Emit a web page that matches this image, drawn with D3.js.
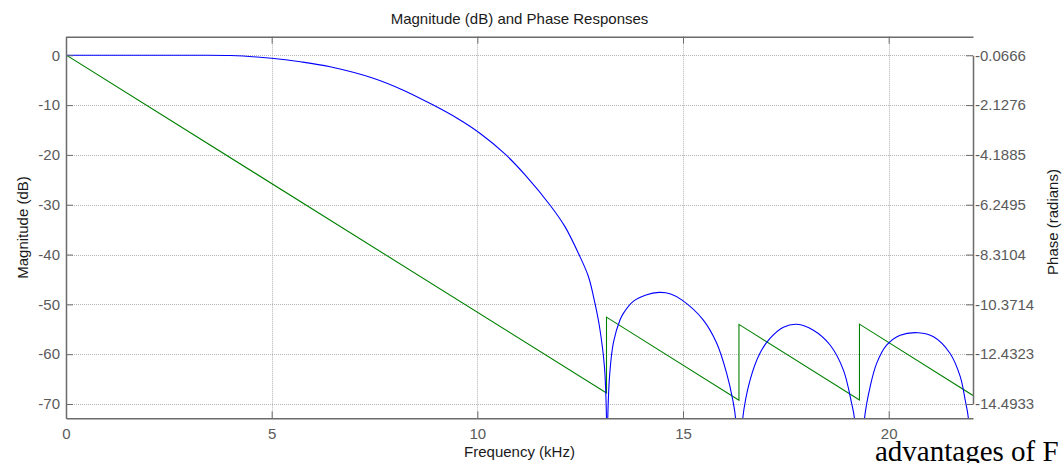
<!DOCTYPE html>
<html>
<head>
<meta charset="utf-8">
<script src="https://cdn.jsdelivr.net/npm/d3@7"></script>
<style>
  html, body { margin: 0; padding: 0; background: #fff; }
  svg { display: block; }
  text { font-family: "Liberation Sans", Arial, sans-serif; }
</style>
</head>
<body>
<svg id="chart" width="1062" height="463"></svg>
<script>
// ---- data ----
const chartTitle = "Magnitude (dB) and Phase Responses";
const xLabel = "Frequency (kHz)";
const yLabelLeft = "Magnitude (dB)";
const yLabelRight = "Phase (radians)";
const footText = "advantages of F";

const xTicks = [0, 5, 10, 15, 20];
const magTicks = [0, -10, -20, -30, -40, -50, -60, -70];
const phaseTicks = ["-0.0666", "-2.1276", "-4.1885", "-6.2495", "-8.3104", "-10.3714", "-12.4323", "-14.4933"];

// magnitude response (kHz, dB); zeros of the response go far below the axis
const magFreq = [0, 1, 2, 3, 4, 5, 5.7, 6.42, 7.47, 8.2, 8.93, 9.5, 10.07, 10.67, 11.16, 11.77, 12.13, 12.46, 12.70, 12.86, 12.97, 13.09, 13.14, 13.155,
  13.17, 13.22, 13.31, 13.47, 13.55, 13.79, 14.1, 14.42, 14.7, 14.97, 15.49, 15.82, 16.06, 16.21, 16.28, 16.36,
  16.45, 16.63, 16.87, 17.12, 17.44, 17.77, 18.17, 18.58, 18.90, 19.10, 19.17, 19.29,
  19.41, 19.55, 19.71, 19.95, 20.28, 20.72, 21.09, 21.49, 21.74, 21.86, 21.94, 22.05];
const magDb = [0, 0, 0, 0, -0.05, -0.6, -1.3, -2.3, -4.6, -7.0, -10.0, -12.6, -15.7, -19.8, -24.0, -30.1, -34.4, -39.8, -44.4, -49.8, -54.5, -62.5, -73, -90,
  -73, -63.8, -57.6, -53.1, -51.8, -49.4, -48.1, -47.6, -47.9, -49.1, -53.1, -57.8, -63.8, -69.2, -73, -90,
  -73, -65.2, -59.8, -56.8, -54.6, -54.0, -55.2, -58.2, -63.2, -69.9, -73, -90,
  -73, -66.5, -61.8, -58.2, -56.2, -55.7, -56.5, -59.8, -64.5, -69.2, -73, -90];

// phase response breakpoints (kHz, radians) — linear with pi jumps at zeros
const phaseFreq = [0, 13.14, 13.14, 16.36, 16.36, 19.29, 19.29, 22.05];
const phaseRad = [-0.05, -14.04, -10.90, -14.34, -11.20, -14.33, -11.19, -14.14];

// ---- layout ----
const svg = d3.select("#chart");
const L = 66, R = 973, T = 36.7, B = 418.3;
const x = d3.scaleLinear().domain([0, 22.05]).range([L, R]);
const y = d3.scaleLinear().domain([-72.87, 3.73]).range([B, T]);
// phase axis aligned with magnitude grid: first/last phase tick at 0 / -70 dB
const yP = d3.scaleLinear()
  .domain([+phaseTicks[phaseTicks.length - 1], +phaseTicks[0]])
  .range([y(magTicks[magTicks.length - 1]), y(magTicks[0])]);

const axisCol = "#6b6b6b", labCol = "#5a5a5a", gridCol = "#b4b4b4";

// clip
svg.append("defs").append("clipPath").attr("id", "plotclip")
  .append("rect").attr("x", L).attr("y", T).attr("width", R - L).attr("height", B - T);

// grid
const grid = svg.append("g");
grid.selectAll("line.gy").data(magTicks).join("line")
  .attr("x1", L).attr("x2", R)
  .attr("y1", d => Math.round(y(d)) + 0.5).attr("y2", d => Math.round(y(d)) + 0.5)
  .attr("stroke", gridCol).attr("stroke-dasharray", "1,1").attr("stroke-width", 1);
grid.selectAll("line.gx").data(xTicks.filter(d => d > 0)).join("line")
  .attr("y1", T).attr("y2", B)
  .attr("x1", d => Math.round(x(d)) + 0.5).attr("x2", d => Math.round(x(d)) + 0.5)
  .attr("stroke", gridCol).attr("stroke-dasharray", "1,1").attr("stroke-width", 1);

// lines
const plot = svg.append("g").attr("clip-path", "url(#plotclip)");
const magData = magFreq.map((f, i) => [f, magDb[i]]);
const phaseData = phaseFreq.map((f, i) => [f, phaseRad[i]]);

plot.append("path").datum(phaseData)
  .attr("d", d3.line().x(d => x(d[0])).y(d => yP(d[1])))
  .attr("fill", "none").attr("stroke", "#008000").attr("stroke-width", 1.1);

plot.append("path").datum(magData)
  .attr("d", d3.line().x(d => x(d[0])).y(d => y(d[1])).curve(d3.curveCatmullRom.alpha(0.5)))
  .attr("fill", "none").attr("stroke", "#0000ff").attr("stroke-width", 1.1);

// axes (MATLAB style: inward ticks)
const tickLen = 7;
const fmt = d => String(d);
const axL = d3.axisLeft(y).tickValues(magTicks).tickSize(-tickLen).tickSizeOuter(0).tickPadding(6).tickFormat(fmt);
const axB = d3.axisBottom(x).tickValues(xTicks).tickSize(-tickLen).tickSizeOuter(0).tickPadding(10).tickFormat(fmt);
const axT = d3.axisTop(x).tickValues(xTicks).tickSize(-tickLen).tickSizeOuter(0).tickFormat("");
const axR = d3.axisRight(yP).tickValues(phaseTicks.map(Number)).tickSize(-tickLen).tickSizeOuter(0).tickPadding(2)
  .tickFormat((d, i) => phaseTicks[i]);

function style(g) {
  g.select(".domain").attr("stroke", axisCol).attr("stroke-width", 1.5);
  g.selectAll(".tick line").attr("stroke", axisCol);
  g.selectAll(".tick text").attr("fill", labCol).style("font-size", "15px")
    .style("font-family", "'Liberation Sans', Arial, sans-serif");
}
svg.append("g").attr("transform", `translate(${L},0)`).call(axL).call(style);
svg.append("g").attr("transform", `translate(0,${B})`).call(axB).call(style);
svg.append("g").attr("transform", `translate(0,${T})`).call(axT).call(style);
svg.append("g").attr("transform", `translate(${R},0)`).call(axR).call(style);

// titles
svg.append("text").attr("x", (L + R) / 2).attr("y", 24).attr("text-anchor", "middle")
  .style("font-size", "15px").attr("fill", "#1a1a1a").text(chartTitle);
svg.append("text").attr("x", (L + R) / 2).attr("y", 457).attr("text-anchor", "middle")
  .style("font-size", "15px").attr("fill", "#1a1a1a").text(xLabel);
svg.append("text").attr("transform", `translate(28,${(T + B) / 2}) rotate(-90)`).attr("text-anchor", "middle")
  .style("font-size", "15px").attr("fill", "#1a1a1a").text(yLabelLeft);
svg.append("text").attr("transform", `translate(1058,222) rotate(-90)`).attr("text-anchor", "middle")
  .style("font-size", "15px").attr("fill", "#1a1a1a").text(yLabelRight);

// stray text from the source document
svg.append("text").attr("x", 875).attr("y", 461)
  .style("font-family", "'Liberation Serif', 'Times New Roman', serif").style("font-size", "29px")
  .attr("fill", "#000").text(footText);
</script>
</body>
</html>
